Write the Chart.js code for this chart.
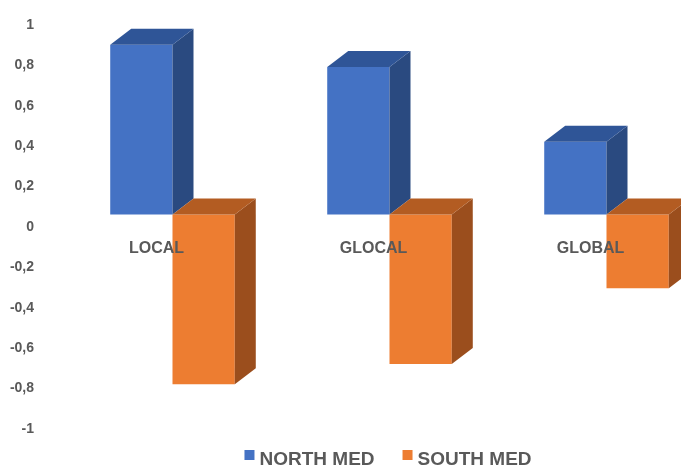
<!DOCTYPE html>
<html>
<head>
<meta charset="utf-8">
<script src="https://cdn.jsdelivr.net/npm/chart.js@4"></script>
<style>
  html, body { margin: 0; padding: 0; background: #ffffff; overflow: hidden; width: 681px; height: 466px; }
  #wrap { width: 699px; height: 466px; position: relative; }
</style>
</head>
<body>
<div id="wrap"><canvas id="c"></canvas></div>
<script>
const categories = ['LOCAL', 'GLOCAL', 'GLOBAL'];
const northMed = [0.84, 0.73, 0.36];
const southMed = [-0.84, -0.74, -0.365];
const seriesNames = ['NORTH MED', 'SOUTH MED'];
const yTickMin = -1;
const yTickMax = 1;
const yTickStep = 0.2;

const FONT = "'Liberation Sans', Arial, sans-serif";
const TEXT = '#595959';
const front = ['#4472C4', '#ED7D31'];
const side = ['#2A4A80', '#9B4E1D'];
const topc = ['#2F5597', '#B35C22'];
const DX = 21, DY = -16;        // 3D depth
const SHIFT_X = 16, SHIFT_Y = -12.5;

const bars3d = {
  id: 'bars3d',
  beforeDatasetsDraw(chart) {
    const ctx = chart.ctx;
    ctx.save();
    ctx.translate(SHIFT_X, SHIFT_Y);
  },
  afterDatasetsDraw(chart) {
    const ctx = chart.ctx;
    chart.data.datasets.forEach((ds, di) => {
      const meta = chart.getDatasetMeta(di);
      meta.data.forEach(el => {
        const p = el.getProps(['x', 'y', 'base', 'width'], true);
        const l = p.x - p.width / 2, r = p.x + p.width / 2;
        const t = Math.min(p.y, p.base), b = Math.max(p.y, p.base);
        ctx.fillStyle = side[di];
        ctx.beginPath();
        ctx.moveTo(r, t); ctx.lineTo(r + DX, t + DY);
        ctx.lineTo(r + DX, b + DY); ctx.lineTo(r, b);
        ctx.closePath(); ctx.fill();
        ctx.fillStyle = topc[di];
        ctx.beginPath();
        ctx.moveTo(l, t); ctx.lineTo(l + DX, t + DY);
        ctx.lineTo(r + DX, t + DY); ctx.lineTo(r, t);
        ctx.closePath(); ctx.fill();
      });
    });
    ctx.restore();
  }
};

const customLegend = {
  id: 'customLegend',
  afterDraw(chart) {
    const ctx = chart.ctx;
    ctx.save();
    ctx.font = 'bold 19px ' + FONT;
    const box = 10, gap = 5, itemGap = 28;
    const items = chart.data.datasets.map((ds, i) => ({ text: ds.label, color: ds.backgroundColor, w: box + gap + ctx.measureText(ds.label).width }));
    const total = items.reduce((s, it) => s + it.w, 0) + itemGap * (items.length - 1);
    let x = 388 - total / 2;
    items.forEach(it => {
      ctx.fillStyle = it.color;
      ctx.fillRect(x, 450, box, box);
      ctx.fillStyle = TEXT;
      ctx.textBaseline = 'alphabetic';
      ctx.textAlign = 'left';
      ctx.fillText(it.text, x + box + gap, 465);
      x += it.w + itemGap;
    });
    ctx.restore();
  }
};

new Chart(document.getElementById('c'), {
  type: 'bar',
  data: {
    labels: categories,
    datasets: [
      { label: seriesNames[0], data: northMed, backgroundColor: front[0], borderWidth: 0 },
      { label: seriesNames[1], data: southMed, backgroundColor: front[1], borderWidth: 0 }
    ]
  },
  options: {
    responsive: true,
    maintainAspectRatio: false,
    animation: false,
    datasets: { bar: { categoryPercentage: 0.574, barPercentage: 1 } },
    layout: { padding: { top: 25, bottom: 37, left: 0, right: 0 } },
    plugins: { legend: { display: false }, tooltip: { enabled: false } },
    scales: {
      x: {
        type: 'category',
        position: { y: 0 },
        grid: { display: false, drawTicks: false },
        border: { display: false },
        ticks: { z: 1, color: TEXT, font: { family: FONT, size: 16, weight: 'bold' }, padding: 12, maxRotation: 0 }
      },
      y: {
        min: yTickMin,
        max: yTickMax,
        grid: { display: false, drawTicks: false },
        border: { display: false },
        afterFit(axis) { axis.width = 48; },
        ticks: {
          stepSize: yTickStep,
          color: TEXT,
          padding: 14,
          font: { family: FONT, size: 14, weight: 'bold' },
          callback: v => String(Number(v.toFixed(1))).replace('.', ',')
        }
      }
    }
  },
  plugins: [bars3d, customLegend]
});
</script>
</body>
</html>
